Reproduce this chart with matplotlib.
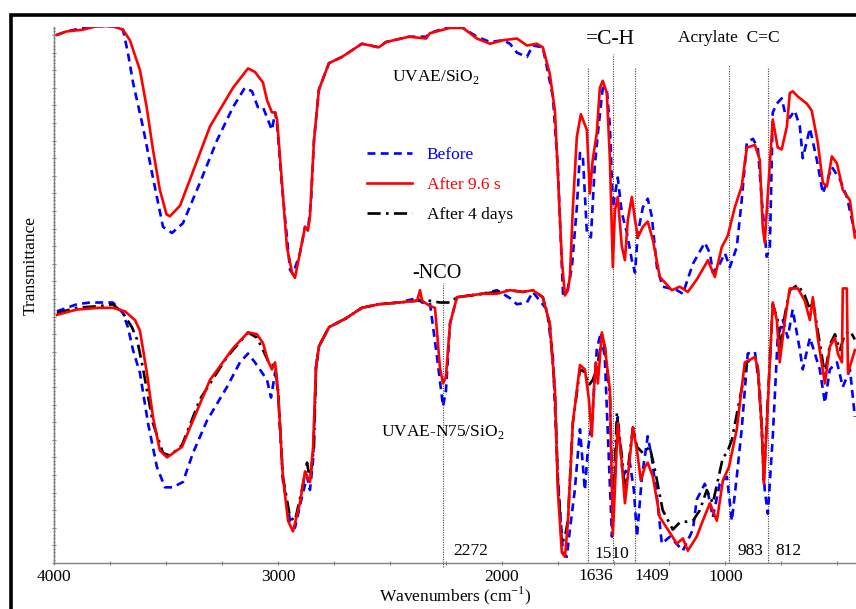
import numpy as np
import matplotlib.pyplot as plt
from matplotlib.patches import Rectangle
from matplotlib.ticker import MultipleLocator, NullFormatter

plt.rcParams['font.family'] = 'Liberation Serif'
plt.rcParams['mathtext.fontset'] = 'custom'
plt.rcParams['mathtext.rm'] = 'Liberation Serif'

# ---------------- spectra (wavenumber, transmittance a.u.) ----------------
# upper spectrum: UVAE/SiO2
wn_top_after = [3989, 3945, 3872, 3810, 3738, 3693, 3662, 3617, 3587, 3559, 3528, 3498, 3483, 3438,
                3393, 3304, 3201, 3134, 3103, 3067, 3049, 3027, 3013, 3004, 2982, 2960, 2937, 2924,
                2902, 2879, 2866, 2857, 2839, 2817, 2772, 2714, 2625, 2549, 2517, 2414, 2338, 2321,
                2231, 2173, 2111, 2052, 1994, 1932, 1887, 1843, 1816, 1785, 1762, 1749, 1731, 1717,
                1704, 1695, 1682, 1664, 1646, 1619, 1606, 1593, 1575, 1561, 1548, 1530, 1516, 1503,
                1494, 1481, 1463, 1449, 1436, 1418, 1404, 1391, 1369, 1347, 1324, 1293, 1239, 1204,
                1168, 1128, 1078, 1047, 1016, 989, 958, 927, 904, 868, 846, 833, 824, 810, 788, 766,
                748, 725, 712, 699, 676, 636, 614, 587, 564, 546, 524, 501, 475, 443, 421]
t_top_after = [30.0, 30.2, 30.3, 30.5, 30.5, 30.3, 29.7, 28.0, 25.9, 23.5, 21.2, 19.8, 19.7, 20.3,
               21.8, 24.8, 27.0, 28.1, 27.9, 27.3, 26.3, 25.6, 25.6, 25.2, 21.6, 17.95, 16.5, 16.2,
               17.6, 19.1, 18.9, 19.7, 24.0, 26.9, 28.4, 28.75, 29.5, 29.3, 29.6, 29.9, 29.8, 30.1,
               30.4, 30.4, 29.8, 29.5, 29.7, 29.8, 29.4, 29.5, 29.3, 27.8, 25.7, 22.2, 17.2, 15.2,
               15.5, 16.25, 20.1, 24.2, 25.5, 24.6, 21.0, 22.9, 24.4, 27.0, 27.4, 26.7, 22.9, 16.8,
               20.0, 20.8, 18.0, 17.2, 19.5, 20.8, 19.5, 18.5, 19.1, 19.4, 18.35, 16.25, 15.5, 15.7,
               15.4, 16.1, 17.2, 16.25, 17.95, 18.6, 20.2, 21.4, 23.6, 23.75, 22.9, 19.1, 18.2, 21.0,
               25.2, 23.6, 23.5, 24.8, 26.7, 26.8, 26.5, 26.1, 25.7, 23.9, 21.6, 21.4, 23.1, 22.7,
               21.2, 20.6, 18.5]

wn_top_before = [3989, 3945, 3872, 3810, 3738, 3693, 3671, 3648, 3604, 3559, 3514, 3474, 3425, 3349,
                 3273, 3201, 3148, 3116, 3090, 3067, 3027, 3013, 3004, 2982, 2946, 2933, 2902, 2879,
                 2866, 2852, 2839, 2817, 2772, 2714, 2625, 2549, 2517, 2414, 2338, 2321, 2231, 2173,
                 2111, 2052, 1994, 1963, 1932, 1887, 1861, 1816, 1771, 1749, 1726, 1709, 1686, 1664,
                 1650, 1637, 1619, 1601, 1584, 1570, 1548, 1530, 1516, 1503, 1481, 1463, 1440, 1418,
                 1404, 1391, 1369, 1347, 1329, 1306, 1280, 1217, 1190, 1145, 1092, 1069, 1056, 1025,
                 1002, 980, 949, 927, 904, 877, 855, 837, 815, 801, 788, 770, 748, 734, 712, 690,
                 667, 654, 622, 591, 564, 524, 488, 457, 421]
t_top_before = [30.0, 30.2, 30.4, 30.5, 30.5, 30.3, 29.0, 27.3, 24.8, 21.9, 19.1, 18.75, 19.3, 21.6,
                24.0, 25.9, 27.0, 26.8, 25.9, 25.9, 24.6, 25.6, 24.9, 21.4, 16.65, 16.4, 17.6, 19.1,
                18.9, 20.6, 24.0, 26.9, 28.4, 28.75, 29.5, 29.3, 29.6, 29.9, 29.9, 30.1, 30.5, 30.4,
                29.9, 29.6, 29.7, 29.5, 29.0, 28.75, 29.4, 29.3, 26.5, 22.5, 15.3, 15.3, 16.8, 20.2,
                23.3, 23.1, 18.75, 18.5, 22.5, 24.4, 27.0, 26.9, 24.8, 20.2, 21.9, 19.9, 18.75, 17.2,
                16.5, 18.75, 20.2, 20.7, 19.7, 16.8, 15.7, 15.5, 15.3, 17.0, 18.2, 17.6, 16.5, 17.0,
                17.6, 16.8, 17.95, 20.6, 23.9, 24.1, 23.6, 20.6, 17.4, 17.95, 25.6, 26.1, 26.4, 25.6,
                25.3, 25.7, 24.8, 23.0, 24.7, 22.9, 21.0, 22.5, 21.8, 20.8, 18.75]

# lower spectrum: UVAE-N75/SiO2
wn_bot_after = [3988, 3899, 3796, 3738, 3684, 3639, 3617, 3586, 3559, 3528, 3496, 3429, 3393, 3304,
                3201, 3134, 3094, 3067, 3045, 3027, 3013, 3000, 2978, 2955, 2933, 2902, 2879, 2857,
                2843, 2830, 2817, 2772, 2696, 2625, 2549, 2459, 2378, 2365, 2356, 2321, 2298, 2276,
                2262, 2249, 2231, 2200, 2142, 2084, 2021, 1963, 1905, 1861, 1816, 1785, 1762, 1749,
                1731, 1717, 1704, 1682, 1650, 1628, 1610, 1597, 1588, 1579, 1570, 1552, 1539, 1516,
                1503, 1481, 1463, 1449, 1436, 1413, 1395, 1378, 1360, 1347, 1324, 1293, 1257, 1217,
                1190, 1168, 1128, 1101, 1069, 1038, 1011, 984, 949, 913, 868, 855, 837, 828, 810,
                788, 770, 757, 734, 712, 676, 645, 622, 609, 587, 555, 533, 510, 497, 479, 475, 457,
                452, 421]
t_bot_after = [14.1, 14.4, 14.5, 14.5, 14.3, 13.8, 13.2, 10.8, 8.3, 6.4, 6.0, 6.6, 7.7, 10.4,
               12.2, 13.1, 13.0, 12.5, 11.5, 11.0, 11.4, 9.8, 4.9, 2.4, 1.8, 3.4, 5.2, 4.6,
               6.6, 11.1, 12.3, 13.4, 13.9, 14.5, 14.7, 14.8, 14.9, 15.5, 14.9, 14.6, 14.5, 11.1,
               10.2, 10.6, 13.6, 15.1, 15.2, 15.3, 15.3, 15.5, 15.4, 15.5, 15.1, 13.6, 9.8, 4.15,
               0.6, 0.35, 2.3, 7.95, 11.25, 11.0, 9.3, 7.2, 9.8, 11.4, 10.2, 13.1, 12.3, 9.8,
               1.6, 7.95, 5.7, 3.4, 4.9, 7.7, 6.4, 4.7, 5.45, 5.7, 4.9, 2.6, 1.9, 1.1,
               1.4, 0.7, 1.5, 2.4, 3.4, 2.4, 4.7, 5.45, 7.6, 11.4, 11.7, 11.1, 7.6, 4.5, 9.1,
               14.8, 13.8, 11.4, 13.8, 15.6, 15.6, 14.9, 13.8, 15.1, 12.8, 10.2, 12.3, 12.8, 11.9,
               11.4, 15.6, 15.6, 10.8, 12.1]

wn_bot_before = [3988, 3899, 3840, 3738, 3693, 3671, 3648, 3617, 3581, 3541, 3505, 3471, 3425, 3380,
                 3317, 3228, 3170, 3134, 3103, 3081, 3049, 3031, 3013, 3000, 2978, 2946, 2924, 2893,
                 2870, 2857, 2843, 2830, 2817, 2772, 2696, 2625, 2549, 2459, 2378, 2356, 2321, 2289,
                 2262, 2249, 2231, 2200, 2084, 2021, 1963, 1932, 1887, 1861, 1798, 1771, 1749, 1726,
                 1709, 1695, 1673, 1650, 1628, 1615, 1597, 1575, 1557, 1539, 1507, 1481, 1458, 1427,
                 1409, 1395, 1373, 1347, 1329, 1306, 1284, 1248, 1190, 1145, 1128, 1092, 1078, 1056,
                 1025, 993, 971, 949, 927, 900, 868, 846, 824, 810, 788, 766, 743, 721, 699, 667,
                 654, 622, 578, 555, 533, 501, 475, 443, 421]
t_bot_before = [14.3, 14.7, 14.8, 14.8, 14.2, 13.4, 12.1, 10.8, 7.95, 5.45, 4.3, 4.3, 4.6, 6.25,
                8.1, 10.0, 11.4, 11.9, 11.4, 11.0, 10.4, 9.4, 10.8, 9.8, 4.7, 2.4, 2.0, 3.75,
                4.9, 4.15, 5.85, 11.1, 12.3, 13.4, 13.9, 14.5, 14.7, 14.8, 15.05, 14.8, 14.8, 11.7,
                8.9, 9.8, 13.6, 15.1, 15.3, 15.5, 15.05, 14.7, 14.8, 15.4, 14.4, 11.7, 4.9, 0.6,
                0.35, 1.9, 4.15, 7.6, 4.15, 6.4, 7.95, 12.1, 13.1, 11.7, 1.5, 8.3, 4.9, 5.7,
                4.15, 1.5, 4.9, 7.2, 6.0, 3.75, 1.1, 1.5, 0.7, 1.9, 3.6, 4.5, 4.0, 2.6,
                4.5, 4.9, 2.4, 4.9, 7.6, 11.9, 12.0, 9.8, 4.15, 2.8, 7.2, 12.8, 13.8, 12.8, 14.4,
                12.1, 11.0, 12.8, 11.0, 9.1, 11.0, 11.4, 10.0, 11.0, 8.3]

wn_bot_4d = [3988, 3899, 3796, 3738, 3693, 3653, 3630, 3604, 3559, 3514, 3483, 3429, 3349, 3228,
             3134, 3094, 3067, 3036, 3013, 3000, 2978, 2946, 2924, 2893, 2870, 2857, 2839, 2830,
             2817, 2772, 2696, 2625, 2549, 2459, 2378, 2321, 2276, 2231, 2200, 2142, 2084, 2021,
             1963, 1905, 1861, 1816, 1785, 1762, 1749, 1731, 1717, 1704, 1682, 1650, 1628, 1610,
             1593, 1575, 1552, 1539, 1516, 1503, 1485, 1463, 1449, 1436, 1413, 1395, 1369, 1338,
             1315, 1280, 1235, 1204, 1145, 1114, 1083, 1056, 1011, 993, 971, 936, 904, 868, 855,
             837, 828, 810, 788, 766, 757, 734, 712, 676, 645, 622, 609, 587, 555, 533, 510, 488,
             466, 443, 421]
t_bot_4d = [14.2, 14.5, 14.6, 14.7, 14.2, 13.4, 12.7, 11.1, 7.95, 6.25, 6.1, 6.7, 9.3, 11.7,
            13.1, 12.8, 12.1, 11.25, 11.25, 9.8, 4.9, 2.6, 2.4, 4.15, 5.7, 4.7, 6.6, 11.1,
            12.3, 13.4, 13.9, 14.5, 14.7, 14.8, 14.9, 14.9, 14.8, 14.8, 15.1, 15.2, 15.3, 15.4,
            15.5, 15.4, 15.5, 15.1, 13.6, 9.8, 4.7, 1.1, 1.5, 2.4, 7.95, 11.0, 10.85, 10.1,
            10.4, 11.0, 12.7, 12.3, 9.55, 2.4, 8.5, 6.1, 3.9, 5.3, 7.7, 6.6, 6.25, 6.6,
            5.3, 3.0, 1.9, 2.3, 2.4, 3.0, 4.15, 3.4, 6.0, 6.25, 7.0, 9.3, 11.4, 11.7, 11.1,
            7.6, 4.7, 9.3, 14.7, 13.8, 12.1, 14.1, 15.5, 15.8, 15.2, 14.4, 14.9, 13.2, 10.7,
            12.4, 13.0, 12.1, 13.0, 13.2, 12.7]

# ---------------- band markers ----------------
marker_wn = [2262, 1615, 1503, 1404, 984, 810]
marker_top = [15.9, 28.2, 28.9, 28.2, 28.3, 28.2]
marker_bottom = [-0.25, 0, 0, 0, 0, 0]

BLUE = '#0000ff'
RED = '#ff0000'
LW = 1.9


def main():
    fig = plt.figure(figsize=(8.56, 6.09), dpi=100)
    ax = fig.add_axes([0.0634, 0.0755, 0.9366, 0.8801])

    hb, = ax.plot(wn_top_before, t_top_before, color=BLUE, lw=LW, dashes=(3, 2), label='Before')
    hr, = ax.plot(wn_top_after, t_top_after, color=RED, lw=LW, label='After 9.6 s')
    ax.plot(wn_bot_before, t_bot_before, color=BLUE, lw=LW, dashes=(3, 2))
    hk, = ax.plot(wn_bot_4d, t_bot_4d, color='black', lw=LW, dashes=(5, 2, 1, 2), label='After 4 days')
    ax.plot(wn_bot_after, t_bot_after, color=RED, lw=LW)

    ax.vlines(marker_wn, marker_bottom, marker_top, colors='#444444',
              linestyles=(0, (1, 1.2)), lw=0.8, clip_on=False, zorder=1)

    ax.set_xlim(4000, 416)
    ax.set_ylim(0, 30.45)

    ax.spines['top'].set_visible(False)
    ax.spines['right'].set_visible(False)
    for s in ('left', 'bottom'):
        ax.spines[s].set_color('#808080')
        ax.spines[s].set_linewidth(1.0)

    ax.set_xticks([4000, 3000, 2000, 1000])
    ax.xaxis.set_minor_locator(MultipleLocator(250))
    ax.yaxis.set_major_locator(MultipleLocator(1))
    ax.yaxis.set_minor_locator(MultipleLocator(0.2))
    ax.yaxis.set_major_formatter(NullFormatter())
    ax.tick_params(axis='both', which='both', direction='inout', color='#808080', width=0.8)
    ax.tick_params(axis='x', which='both', length=3.5, labelsize=12.5, pad=2.5)
    ax.tick_params(axis='y', which='major', length=3.5)
    ax.tick_params(axis='y', which='minor', length=1.8)

    ax.set_xlabel('Wavenumbers (cm$^{\\mathregular{-1}}$)', fontsize=12.5)
    ax.xaxis.set_label_coords(0.5, -0.04)
    ax.set_ylabel('Transmittance', fontsize=12.5)
    ax.yaxis.set_label_coords(-0.019, 0.556)

    # annotations
    ax.text(1516, 29.75, '=C-H', fontsize=15.5, ha='center', va='center')
    ax.text(984, 29.85, 'Acrylate  C=C', fontsize=12.5, ha='center', va='center')
    ax.text(2293, 27.6, 'UVAE/SiO$_\\mathregular{2}$', fontsize=12.5, ha='center', va='center')
    ax.text(2289, 16.45, '-NCO', fontsize=14.5, ha='center', va='center')
    ax.text(2265, 7.45, 'UVAE-N75/SiO$_\\mathregular{2}$', fontsize=12.5, ha='center', va='center')
    ax.text(2137, 0.7, '2272', fontsize=12.5, ha='center', va='center')
    ax.text(1506, 0.5, '1510', fontsize=12.5, ha='center', va='center')
    ax.text(889, 0.7, '983', fontsize=12.5, ha='center', va='center')
    ax.text(716, 0.7, '812', fontsize=12.5, ha='center', va='center')
    ax.text(1578, -0.74, '1636', fontsize=12.5, ha='center', va='center')
    ax.text(1329, -0.74, '1409', fontsize=12.5, ha='center', va='center')

    leg = ax.legend(handles=[hb, hr, hk], loc='upper left', bbox_to_anchor=(0.39, 0.776),
                    frameon=False, fontsize=12.5, handlelength=2.6, handletextpad=0.85,
                    labelspacing=0.8, borderpad=0, borderaxespad=0)
    for txt, c in zip(leg.get_texts(), [BLUE, RED, 'black']):
        txt.set_color(c)

    # thick outer frame (cropped on right and bottom)
    fig.add_artist(Rectangle((11 / 856, -0.1), 1.2, (609 - 15) / 609 + 0.1,
                             transform=fig.transFigure, fill=False, lw=2.6, ec='black'))

    fig.savefig('out.png', dpi=100)


if __name__ == '__main__':
    main()
